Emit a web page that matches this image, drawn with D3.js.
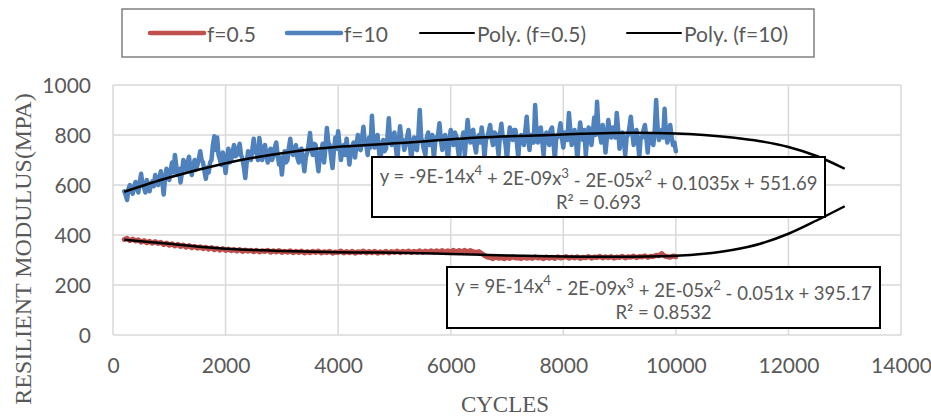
<!DOCTYPE html>
<html>
<head>
<meta charset="utf-8">
<script src="https://cdn.jsdelivr.net/npm/d3@7"></script>
<style>
  body { margin: 0; background: #fff; }
  svg { display: block; }
</style>
</head>
<body>
<svg id="chart" width="931" height="416"></svg>
<script>
// Sampling of the load cycles for each test
const cycleStart = 200;
const f05Step = 50;
const f10Step = 25;

// Resilient modulus (MPa) per sample, f = 0.5 Hz
const f05Values = [
  382, 387, 377, 384, 376, 381, 371, 378, 369, 375,
  367, 374, 366, 371, 361, 368, 359, 365, 356, 363,
  354, 360, 351, 358, 349, 355, 347, 353, 345, 351,
  343, 350, 341, 347, 339, 346, 338, 344, 337, 342,
  336, 342, 334, 340, 335, 339, 333, 339, 332, 337,
  334, 339, 331, 337, 332, 338, 330, 335, 331, 337,
  329, 335, 330, 336, 328, 334, 329, 335, 330, 336,
  328, 333, 330, 335, 327, 332, 330, 336, 328, 334,
  329, 335, 327, 333, 330, 336, 328, 334, 329, 335,
  327, 333, 329, 335, 328, 334, 330, 336, 329, 335,
  331, 336, 330, 335, 331, 337, 330, 336, 332, 337,
  331, 337, 332, 338, 331, 337, 333, 339, 332, 338,
  333, 339, 332, 338, 333, 330, 334, 326, 318, 312,
  310, 305, 312, 307, 309, 305, 311, 306, 313, 308,
  309, 305, 312, 307, 310, 306, 313, 308, 310, 305,
  312, 307, 311, 306, 313, 308, 310, 314, 307, 312,
  308, 313, 306, 311, 309, 314, 307, 312, 310, 315,
  308, 313, 309, 314, 307, 312, 310, 315, 308, 313,
  311, 316, 309, 314, 312, 317, 310, 315, 314, 319,
  317, 326, 316, 313, 311, 316, 313
];

// Resilient modulus (MPa) per sample, f = 10 Hz
const f10Values = [
  575, 560, 540, 585, 600, 580, 565, 595, 612, 590, 570, 610, 645, 600, 590, 570, 620, 600, 575, 605,
  615, 595, 640, 610, 600, 630, 655, 615, 562, 625, 665, 640, 620, 660, 690, 650, 720, 675, 640, 665,
  610, 650, 700, 670, 660, 690, 713, 665, 640, 680, 700, 660, 680, 705, 735, 700, 690, 655, 625, 670,
  650, 690, 700, 760, 795, 740, 790, 720, 700, 680, 730, 700, 648, 700, 745, 690, 700, 730, 760, 715,
  720, 745, 765, 720, 705, 670, 628, 690, 735, 710, 700, 740, 785, 730, 740, 700, 788, 745, 700, 730,
  760, 720, 690, 735, 745, 700, 715, 750, 770, 720, 682, 710, 642, 700, 735, 690, 700, 750, 785, 730,
  720, 745, 760, 710, 690, 740, 745, 700, 655, 710, 730, 760, 808, 740, 720, 765, 760, 700, 655, 720,
  740, 765, 690, 750, 828, 770, 760, 710, 668, 740, 790, 745, 815, 760, 700, 745, 760, 720, 785, 740,
  682, 730, 755, 770, 710, 760, 800, 745, 740, 790, 833, 760, 760, 720, 790, 750, 877, 780, 750, 790,
  800, 740, 690, 760, 780, 735, 745, 790, 867, 770, 760, 800, 810, 750, 700, 770, 835, 780, 780, 740,
  760, 790, 820, 760, 700, 770, 790, 745, 740, 800, 900, 790, 770, 740, 720, 790, 810, 760, 760, 800,
  705, 770, 790, 800, 847, 780, 740, 790, 800, 760, 700, 780, 820, 790, 760, 810, 795, 750, 705, 780,
  780, 810, 720, 790, 860, 800, 770, 815, 820, 760, 730, 790, 800, 770, 830, 790, 710, 780, 790, 815,
  840, 790, 760, 810, 805, 770, 720, 800, 845, 790, 790, 760, 700, 780, 830, 800, 780, 820, 820, 770,
  710, 790, 800, 780, 760, 815, 873, 790, 740, 800, 800, 770, 920, 810, 770, 820, 830, 780, 720, 795,
  810, 780, 760, 820, 830, 770, 705, 790, 790, 810, 847, 790, 750, 810, 800, 780, 888, 820, 760, 800,
  820, 780, 700, 790, 850, 800, 780, 820, 720, 790, 830, 800, 760, 810, 870, 800, 933, 820, 800, 770,
  840, 800, 730, 790, 860, 810, 790, 830, 820, 790, 888, 820, 745, 800, 810, 780, 720, 790, 800, 830,
  873, 810, 760, 800, 820, 780, 710, 790, 790, 820, 840, 790, 730, 800, 800, 770, 760, 820, 940, 830,
  780, 810, 820, 790, 905, 800, 770, 810, 840, 790, 760, 770, 735
];

// 4th-order polynomial trendlines, forecast forward to 13000 cycles
const poly05Points = [
  [200, 381], [1000, 365], [2000, 345], [3000, 336], [4000, 331],
  [5000, 329], [6000, 324], [7000, 318], [8000, 314], [9000, 313],
  [10000, 317], [10500, 325], [11000, 340], [11500, 365], [12000, 405],
  [12500, 458], [13000, 515]
];
const poly10Points = [
  [200, 573], [1000, 630], [2000, 687], [2600, 713], [3700, 747],
  [5100, 768], [6500, 790], [7750, 800], [8850, 808], [10000, 806],
  [10500, 800], [11000, 790], [11500, 775], [12000, 752], [12500, 716],
  [13000, 665]
];

const xTicks = [0, 2000, 4000, 6000, 8000, 10000, 12000, 14000];
const yTicks = [0, 200, 400, 600, 800, 1000];
const seriesNames = ["f=0.5", "f=10", "Poly. (f=0.5)", "Poly. (f=10)"];
const xTitle = "CYCLES";
const yTitle = "RESILIENT MODULUS(MPA)";

// Trendline labels: [text, isSuperscript] segments
const eq10 = [["y = -9E-14x", false], ["4", true], [" + 2E-09x", false], ["3", true],
              [" - 2E-05x", false], ["2", true], [" + 0.1035x + 551.69", false]];
const r2_10 = "R² = 0.693";
const eq05 = [["y = 9E-14x", false], ["4", true], [" - 2E-09x", false], ["3", true],
              [" + 2E-05x", false], ["2", true], [" - 0.051x + 395.17", false]];
const r2_05 = "R² = 0.8532";

const RED = "#c0504d", BLUE = "#4f81bd", TEXT = "#595959", GRID = "#d9d9d9";
const uiFont = "Lato, 'Open Sans', sans-serif";
const serifFont = "'Liberation Serif', 'DejaVu Serif', serif";

const svg = d3.select("#chart");
const x = d3.scaleLinear().domain([0, 14000]).range([113, 901]);
const y = d3.scaleLinear().domain([0, 1000]).range([335, 85]);

const toSeries = (vals, step) => vals.map((v, i) => [cycleStart + i * step, v]);

// Grid
const grid = svg.append("g");
grid.selectAll("line.v").data(xTicks).join("line")
  .attr("x1", d => x(d)).attr("x2", d => x(d))
  .attr("y1", y(1000)).attr("y2", y(0))
  .attr("stroke", GRID).attr("stroke-width", 1.5);
grid.selectAll("line.h").data(yTicks).join("line")
  .attr("x1", x(0)).attr("x2", x(14000))
  .attr("y1", d => y(d)).attr("y2", d => y(d))
  .attr("stroke", GRID).attr("stroke-width", 1.5);

// Axes (labels only, lines come from the grid)
const yAxis = svg.append("g").attr("transform", `translate(${x(0) - 22},0)`)
  .call(d3.axisLeft(y).tickValues(yTicks).tickSize(0).tickPadding(0).tickFormat(d3.format("d")));
const xAxis = svg.append("g").attr("transform", `translate(0,${y(0) + 23})`)
  .call(d3.axisBottom(x).tickValues(xTicks).tickSize(0).tickPadding(0).tickFormat(d3.format("d")));
[yAxis, xAxis].forEach(a => {
  a.select(".domain").remove();
  a.selectAll("text").attr("fill", TEXT).style("font-family", uiFont).style("font-size", "21px");
});
yAxis.selectAll("text").attr("dy", "0.35em");
xAxis.selectAll("text").attr("dy", "0.71em");

// Axis titles
svg.append("text").attr("x", 505).attr("y", 412).attr("text-anchor", "middle")
  .attr("fill", TEXT)
  .style("font-family", serifFont).style("font-size", "23px").text(xTitle);
svg.append("text").attr("transform", "translate(23,249) rotate(-90)")
  .attr("text-anchor", "middle").attr("dominant-baseline", "central").attr("fill", TEXT)
  .style("font-family", serifFont).style("font-size", "24px").text(yTitle);

// Data series
const line = d3.line().x(d => x(d[0])).y(d => y(d[1]));
svg.append("path").datum(toSeries(f05Values, f05Step)).attr("d", line)
  .attr("fill", "none").attr("stroke", RED).attr("stroke-width", 5)
  .attr("stroke-linejoin", "round").attr("stroke-linecap", "round");
svg.append("path").datum(toSeries(f10Values, f10Step)).attr("d", line)
  .attr("fill", "none").attr("stroke", BLUE).attr("stroke-width", 4.5)
  .attr("stroke-linejoin", "round").attr("stroke-linecap", "round");

// Trendlines
const smooth = d3.line().x(d => x(d[0])).y(d => y(d[1])).curve(d3.curveCatmullRom);
[poly05Points, poly10Points].forEach(pts => {
  svg.append("path").datum(pts).attr("d", smooth)
    .attr("fill", "none").attr("stroke", "#000").attr("stroke-width", 2.5);
});

// Trendline label boxes
function eqBox(box, segs, r2) {
  const g = svg.append("g");
  g.append("rect").attr("x", box.x).attr("y", box.y).attr("width", box.w).attr("height", box.h)
    .attr("fill", "#fff").attr("stroke", "#000").attr("stroke-width", 2);
  const cx = box.x + box.w / 2;
  const t1 = g.append("text").attr("x", cx).attr("y", box.y + 19).attr("text-anchor", "middle")
    .attr("dominant-baseline", "central").attr("fill", TEXT)
    .style("font-family", uiFont).style("font-size", "18px");
  let up = false;
  segs.forEach(([s, sup]) => {
    const ts = t1.append("tspan").text(s);
    if (sup && !up) { ts.attr("dy", "-0.42em"); up = true; }
    else if (!sup && up) { ts.attr("dy", "0.42em"); up = false; }
  });
  const t2 = g.append("text").attr("x", cx).attr("y", box.y + 45).attr("text-anchor", "middle")
    .attr("dominant-baseline", "central").attr("fill", TEXT)
    .style("font-family", uiFont).style("font-size", "18px").text(r2);
  t1.selectAll("tspan").filter((d, i) => segs[i][1]).style("font-size", "13px");
  const w = t1.node().getComputedTextLength();
  const fs = 18 * box.tw / w;
  t1.style("font-size", fs + "px");
  t1.selectAll("tspan").filter((d, i) => segs[i][1]).style("font-size", (fs * 0.72) + "px");
  t2.style("font-size", fs + "px");
}
eqBox({ x: 372, y: 157, w: 453, h: 60, tw: 438 }, eq10, r2_10);
eqBox({ x: 447, y: 267, w: 433, h: 61, tw: 417 }, eq05, r2_05);

// Legend
const lg = svg.append("g");
lg.append("rect").attr("x", 122).attr("y", 9).attr("width", 692).attr("height", 48)
  .attr("fill", "#fff").attr("stroke", "#808080").attr("stroke-width", 1.5);
const legendItems = [
  { name: seriesNames[0], color: RED, w: 4.5, x0: 150 },
  { name: seriesNames[1], color: BLUE, w: 4.5, x0: 287 },
  { name: seriesNames[2], color: "#000", w: 2, x0: 420 },
  { name: seriesNames[3], color: "#000", w: 2, x0: 627 }
];
legendItems.forEach(it => {
  lg.append("line").attr("x1", it.x0).attr("x2", it.x0 + 54).attr("y1", 33).attr("y2", 33)
    .attr("stroke", it.color).attr("stroke-width", it.w).attr("stroke-linecap", "round");
  lg.append("text").attr("x", it.x0 + 57).attr("y", 33).attr("dominant-baseline", "central")
    .attr("fill", TEXT).style("font-family", uiFont).style("font-size", "21px").text(it.name);
});
</script>
</body>
</html>
